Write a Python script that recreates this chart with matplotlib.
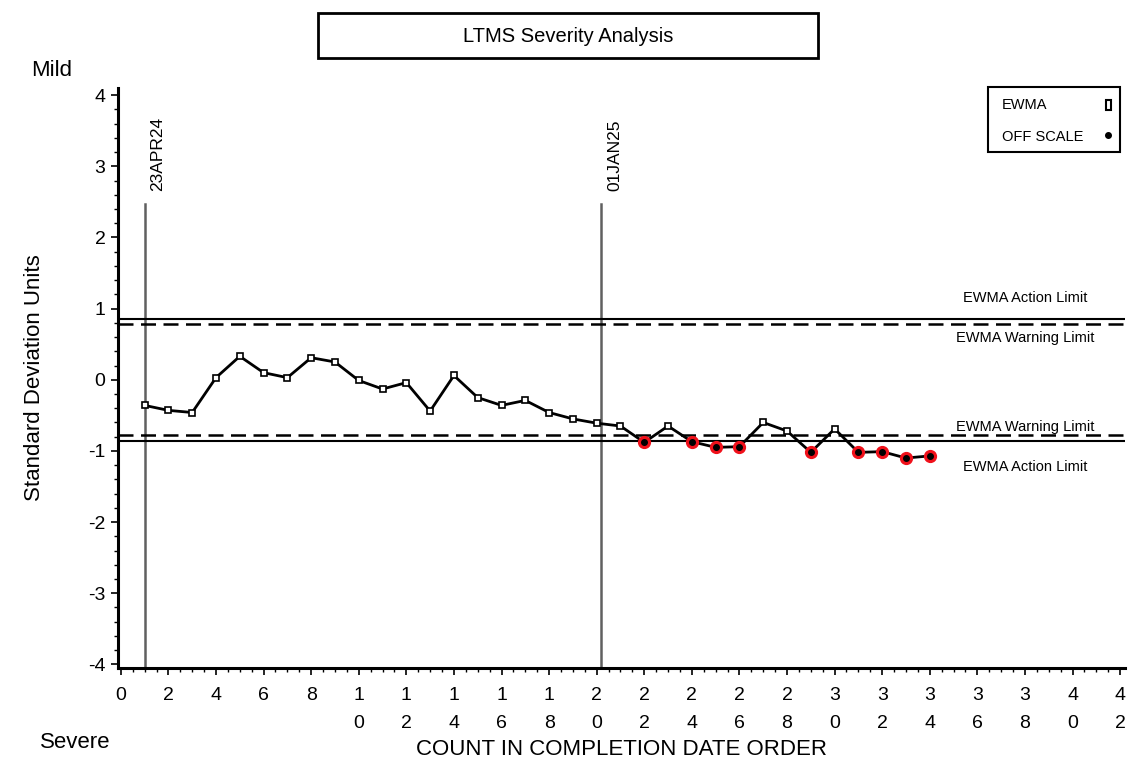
import matplotlib.pyplot as plt
from matplotlib.patches import Rectangle
from matplotlib.lines import Line2D
from matplotlib.ticker import MultipleLocator, FixedLocator

plt.rcParams['font.family'] = ['Liberation Sans', 'DejaVu Sans']
plt.rcParams['axes.unicode_minus'] = False

# EWMA results, in completion date order
count = list(range(1, 35))
ewma = [-0.36, -0.43, -0.46, 0.03, 0.33, 0.10, 0.03, 0.31, 0.25, -0.01,
        -0.13, -0.04, -0.44, 0.06, -0.25, -0.36, -0.29, -0.46, -0.55, -0.61,
        -0.65, -0.88, -0.65, -0.87, -0.95, -0.94, -0.60, -0.72, -1.02, -0.69,
        -1.02, -1.01, -1.10, -1.07]

action_limit = 0.86
warning_limit = 0.78

# reference dates (position on count axis, label)
date_pos = [1.0, 20.2]
date_lbl = ['23APR24', '01JAN25']

xticks = list(range(0, 43, 2))
xtick_lbl = ['\n'.join(str(t)) for t in xticks]

fig = plt.figure(figsize=(11.42, 7.62), dpi=100)
ax = fig.add_axes([0.1033, 0.1234, 0.8817, 0.7611])

ax.set_xlim(-0.12, 42.2)
ax.set_ylim(-4.05, 4.1)

for s in ['top', 'right']:
    ax.spines[s].set_visible(False)
for s in ['left', 'bottom']:
    ax.spines[s].set_linewidth(2.2)

ax.yaxis.set_major_locator(MultipleLocator(1))
ax.yaxis.set_minor_locator(MultipleLocator(0.2))
ax.xaxis.set_major_locator(FixedLocator(xticks))
ax.xaxis.set_minor_locator(MultipleLocator(0.5))
ax.set_xticklabels(xtick_lbl, linespacing=1.85)
ax.tick_params(axis='both', which='major', direction='out', length=5, width=1.2, labelsize=14, pad=4)
ax.tick_params(axis='both', which='minor', direction='out', length=3, width=1)
ax.tick_params(axis='x', which='major', pad=9)

# limit lines
ax.axhline(action_limit, color='black', lw=1.5)
ax.axhline(-action_limit, color='black', lw=1.5)
ax.axhline(warning_limit, color='black', lw=1.8, dashes=(6, 3))
ax.axhline(-warning_limit, color='black', lw=1.8, dashes=(6, 3))

lab_x = 38.0
ax.text(lab_x, 1.15, 'EWMA Action Limit', ha='center', va='center', fontsize=10.5)
ax.text(lab_x, 0.58, 'EWMA Warning Limit', ha='center', va='center', fontsize=10.5)
ax.text(lab_x, -0.67, 'EWMA Warning Limit', ha='center', va='center', fontsize=10.5)
ax.text(lab_x, -1.23, 'EWMA Action Limit', ha='center', va='center', fontsize=10.5)

# date markers
for p, lbl in zip(date_pos, date_lbl):
    ax.plot([p, p], [-4.05, 2.47], color='#606060', lw=1.8, zorder=1)
    ax.text(p + 0.55, 2.65, lbl, rotation=90, ha='center', va='bottom', fontsize=12.5,
            family=['Liberation Sans Narrow', 'Liberation Sans'])

# EWMA line with open squares, off-scale points in red
ax.plot(count, ewma, color='black', lw=2, zorder=3)
ax.plot(count, ewma, ls='none', marker='s', ms=5, mfc='white', mec='black', mew=1.2, zorder=4)
off_x = [c for c, v in zip(count, ewma) if v < -action_limit]
off_y = [v for v in ewma if v < -action_limit]
ax.plot(off_x, off_y, ls='none', marker='o', ms=8.5, mfc='#f0101a', mec='#f0101a', zorder=5)
ax.plot(off_x, off_y, ls='none', marker='o', ms=4, mfc='black', mec='black', zorder=6)

ax.set_ylabel('Standard Deviation Units', fontsize=16, labelpad=31)
ax.set_xlabel('COUNT IN COMPLETION DATE ORDER', fontsize=16, labelpad=5)

# title box
W, H = 1142, 762
fig.add_artist(Rectangle((318 / W, 1 - 58 / H), 500 / W, 45 / H, transform=fig.transFigure,
                         fill=False, ec='black', lw=2))
fig.text(568 / W, 1 - 36 / H, 'LTMS Severity Analysis', ha='center', va='center', fontsize=14.5)

fig.text(52 / W, 1 - 70 / H, 'Mild', ha='center', va='center', fontsize=16)
fig.text(75 / W, 1 - 743 / H, 'Severe', ha='center', va='center', fontsize=16)

# legend box
fig.add_artist(Rectangle((988 / W, 1 - 152 / H), 132 / W, 65 / H, transform=fig.transFigure,
                         fill=False, ec='black', lw=1.5))
fig.text(1002 / W, 1 - 105 / H, 'EWMA', ha='left', va='center', fontsize=10.5)
fig.text(1002 / W, 1 - 137 / H, 'OFF SCALE', ha='left', va='center', fontsize=10.5)
fig.add_artist(Rectangle((1105.5 / W, 1 - 110 / H), 5 / W, 10 / H, transform=fig.transFigure,
                         fill=False, ec='black', lw=1.5))
fig.add_artist(Line2D([1108 / W], [1 - 135 / H], transform=fig.transFigure, marker='o',
                      ms=4, color='black', ls='none'))

fig.savefig('out.png', dpi=100)
